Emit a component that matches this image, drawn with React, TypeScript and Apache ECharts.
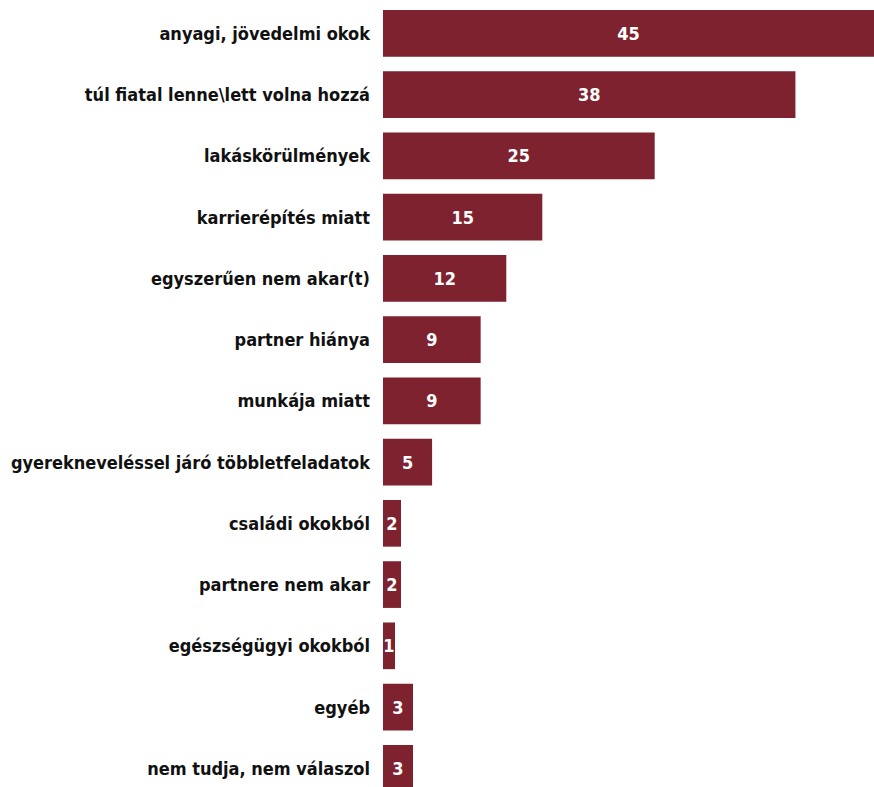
import React, { useEffect, useRef } from "react";
import * as echarts from "echarts";

const categories = [
  "anyagi, jövedelmi okok",
  "túl fiatal lenne\\lett volna hozzá",
  "lakáskörülmények",
  "karrierépítés miatt",
  "egyszerűen nem akar(t)",
  "partner hiánya",
  "munkája miatt",
  "gyerekneveléssel járó többletfeladatok",
  "családi okokból",
  "partnere nem akar",
  "egészségügyi okokból",
  "egyéb",
  "nem tudja, nem válaszol",
];
// bar lengths
const values = [45, 37.8, 24.9, 14.6, 11.3, 8.95, 8.95, 4.5, 1.65, 1.65, 1.1, 2.75, 2.75];
// value labels as printed in the picture
const valueLabels = ["45", "38", "25", "15", "12", "9", "9", "5", "2", "2", "1", "3", "3"];

const FONT = "'DejaVu Sans Condensed', sans-serif";

export default function App() {
  const ref = useRef<HTMLDivElement>(null);
  useEffect(() => {
    if (!ref.current) return;
    const chart = echarts.init(ref.current, undefined, { renderer: "svg" });
    chart.setOption({
      animation: false,
      grid: { left: 383, width: 491, top: 2.7, height: 796.25 },
      xAxis: {
        type: "value",
        min: 0,
        max: 45,
        show: false,
        splitLine: { show: false },
      },
      yAxis: {
        type: "category",
        data: categories,
        inverse: true,
        axisLine: { show: false },
        axisTick: { show: false },
        axisLabel: {
          margin: 13,
          color: "#111",
          fontSize: 18,
          fontWeight: "bold",
          fontFamily: FONT,
        },
      },
      series: [
        {
          type: "bar",
          data: values,
          barWidth: "76.2%",
          itemStyle: { color: "#7d222e" },
          label: {
            show: true,
            position: "inside",
            color: "#fff",
            fontSize: 18,
            fontWeight: "bold",
            fontFamily: FONT,
            formatter: (p: any) => valueLabels[p.dataIndex],
          },
        },
      ],
    });
    return () => chart.dispose();
  }, []);
  return (
    <div style={{ position: "absolute", left: 0, top: 0, width: 874, height: 787, overflow: "hidden", background: "#fff" }}>
      <div ref={ref} style={{ width: 874, height: 805 }} />
    </div>
  );
}
